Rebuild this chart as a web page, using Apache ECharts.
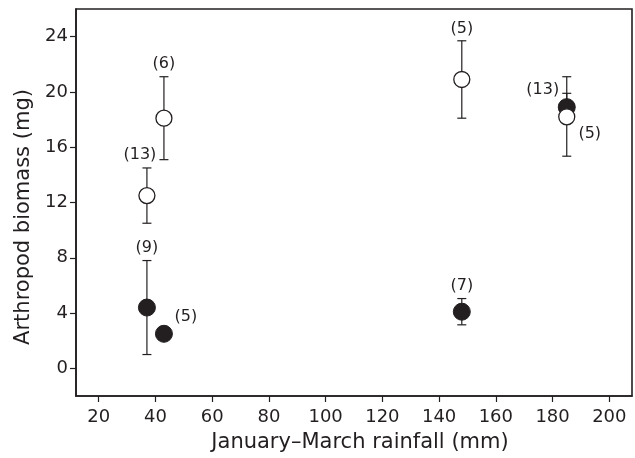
<!DOCTYPE html>
<html>
<head>
<meta charset="utf-8">
<script src="https://cdn.jsdelivr.net/npm/echarts@6/dist/echarts.min.js"></script>
<style>html,body{margin:0;padding:0;background:#fff}#c{width:635px;height:458px}</style>
</head>
<body>
<div id="c"></div>
<script>
// ---- data ----
const xTicks = [20, 40, 60, 80, 100, 120, 140, 160, 180, 200];
const yTicks = [0, 4, 8, 12, 16, 20, 24];

const openX = [37, 43, 148, 185];
const openY = [12.5, 18.1, 20.9, 18.2];
const openLow = [10.5, 15.1, 18.1, 15.35];
const openHigh = [14.5, 21.1, 23.7, 19.9];
const openN = ['(13)', '(6)', '(5)', '(5)'];

const filledX = [37, 43, 148, 185];
const filledY = [4.4, 2.5, 4.1, 18.9];
const filledLow = [1.0, null, 3.15, 18.0];
const filledHigh = [7.8, null, 5.05, 21.1];
const filledN = ['(9)', '(5)', '(7)', '(13)'];

const xTitle = 'January\u2013March rainfall (mm)';
const yTitle = 'Arthropod biomass (mg)';

// ---- styles ----
const INK = '#231f20';
const FONT = 'DejaVu Sans';
const openLabelOffset = [[-7, -41], [0, -54], [0, -51], [23, 17]];
const filledLabelOffset = [[0, -60], [22, -17], [0, -26], [-24, -17]];

function pointData(xs, ys, ns, offs) {
  return xs.map((x, i) => ({
    value: [x, ys[i]],
    label: {
      show: true, position: 'inside', formatter: ns[i], offset: offs[i],
      color: INK, fontFamily: FONT, fontSize: 16
    }
  }));
}
function errData(xs, lo, hi) {
  const out = [];
  xs.forEach((x, i) => { if (lo[i] != null && hi[i] != null) out.push([x, lo[i], hi[i]]); });
  return out;
}
function renderErr(params, api) {
  const lo = api.coord([api.value(0), api.value(1)]);
  const hi = api.coord([api.value(0), api.value(2)]);
  const w = 4.5;
  const st = { stroke: INK, lineWidth: 1.2 };
  return {
    type: 'group',
    children: [
      { type: 'line', shape: { x1: lo[0], y1: lo[1], x2: hi[0], y2: hi[1] }, style: st },
      { type: 'line', shape: { x1: lo[0] - w, y1: lo[1], x2: lo[0] + w, y2: lo[1] }, style: st },
      { type: 'line', shape: { x1: hi[0] - w, y1: hi[1], x2: hi[0] + w, y2: hi[1] }, style: st }
    ]
  };
}

const chart = echarts.init(document.getElementById('c'), null, { renderer: 'canvas' });
const axisLineStyle = { color: INK, width: 1.6 };
chart.setOption({
  animation: false,
  backgroundColor: '#fff',
  textStyle: { fontFamily: FONT },
  grid: { left: 76, right: 3, top: 9, bottom: 62, show: true, borderColor: INK, borderWidth: 1.6, backgroundColor: 'transparent' },
  xAxis: {
    type: 'value', min: 12, max: 208,
    axisLine: { show: true, onZero: false, lineStyle: axisLineStyle },
    axisTick: { show: true, customValues: xTicks, length: 6, lineStyle: { color: INK, width: 1.2 } },
    axisLabel: { customValues: xTicks, margin: 12, color: INK, fontFamily: FONT, fontSize: 18 },
    splitLine: { show: false }
  },
  yAxis: {
    type: 'value', min: -2, max: 26,
    axisLine: { show: true, onZero: false, lineStyle: axisLineStyle },
    axisTick: { show: true, customValues: yTicks, length: 6, lineStyle: { color: INK, width: 1.2 } },
    axisLabel: { customValues: yTicks, margin: 8, color: INK, fontFamily: FONT, fontSize: 18 },
    splitLine: { show: false }
  },
  graphic: [
    { type: 'text', x: 360, y: 443, style: { text: xTitle, fill: INK, font: '21px "DejaVu Sans"', align: 'center', verticalAlign: 'middle' } },
    { type: 'text', x: 24, y: 217, rotation: Math.PI / 2, style: { text: yTitle, fill: INK, font: '21px "DejaVu Sans"', align: 'center', verticalAlign: 'middle' } }
  ],
  series: [
    { type: 'custom', name: 'err-filled', renderItem: renderErr, data: errData(filledX, filledLow, filledHigh), z: 1, silent: true },
    { type: 'custom', name: 'err-open', renderItem: renderErr, data: errData(openX, openLow, openHigh), z: 1, silent: true },
    {
      type: 'scatter', name: 'filled', symbol: 'circle', symbolSize: 17, z: 3,
      itemStyle: { color: INK, borderColor: INK, borderWidth: 1, opacity: 1 },
      data: pointData(filledX, filledY, filledN, filledLabelOffset)
    },
    {
      type: 'scatter', name: 'open', symbol: 'circle', symbolSize: 16, z: 4,
      itemStyle: { color: '#fff', borderColor: INK, borderWidth: 1.3, opacity: 1 },
      data: pointData(openX, openY, openN, openLabelOffset)
    }
  ]
});
</script>
</body>
</html>
